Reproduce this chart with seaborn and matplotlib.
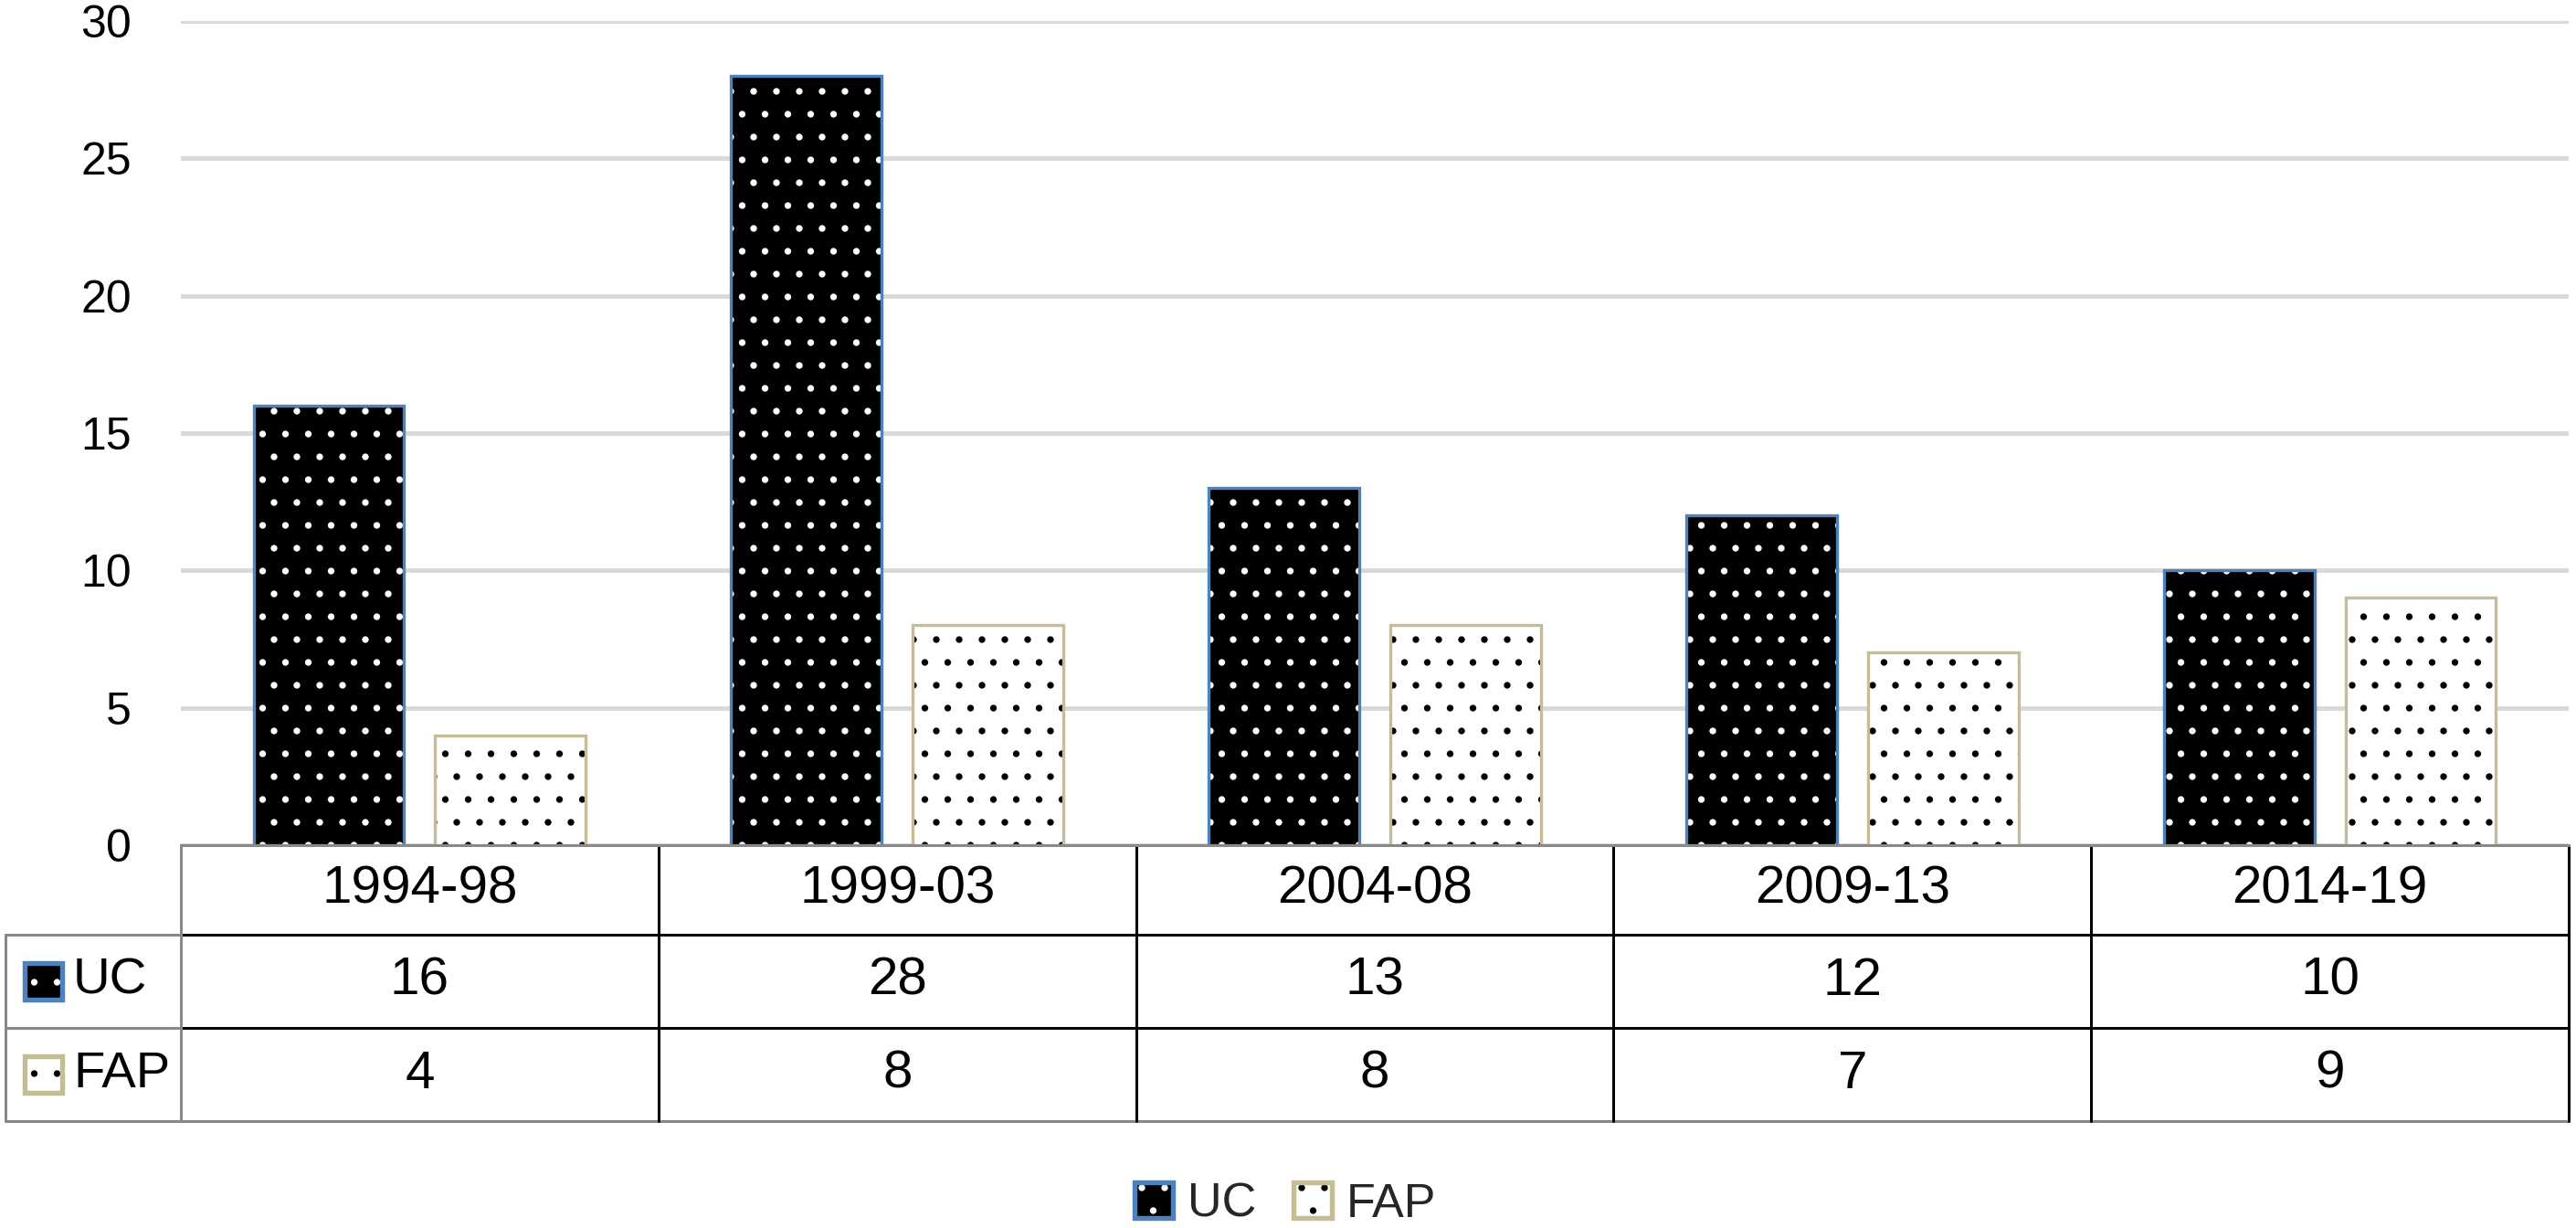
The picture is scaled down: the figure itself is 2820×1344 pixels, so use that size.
import pandas as pd
import matplotlib.pyplot as plt
import seaborn as sns
from matplotlib.patches import Patch, Rectangle

# data
periods = ['1994-98', '1999-03', '2004-08', '2009-13', '2014-19']
uc_counts = [16, 28, 13, 12, 10]
fap_counts = [4, 8, 8, 7, 9]
series_names = ['UC', 'FAP']
y_ticks = [0, 5, 10, 15, 20, 25, 30]

df = pd.DataFrame({
    'period': periods * 2,
    'count': uc_counts + fap_counts,
    'series': ['UC'] * len(periods) + ['FAP'] * len(periods),
})

# style
sns.set_theme(style='whitegrid')
plt.rcParams['font.family'] = ['Liberation Sans', 'DejaVu Sans']
plt.rcParams['hatch.linewidth'] = 1.1

uc_face, uc_dot, uc_edge = 'black', 'white', '#4f81bd'
fap_face, fap_dot, fap_edge = 'white', 'black', '#c4bd97'
gray = '#898989'

fig = plt.figure(figsize=(18.8, 8.96), dpi=150)
ax = fig.add_axes([0.0702, 0.3118, 0.9270, 0.6711])

sns.barplot(data=df, x='period', y='count', hue='series', hue_order=series_names,
            palette=[uc_face, fap_face], width=0.76, gap=0.17, saturation=1,
            legend=False, ax=ax)

# hatch layer + border layer for each bar
styles = [(uc_dot, uc_edge), (fap_dot, fap_edge)]
for cont, (dot, edge) in zip(ax.containers, styles):
    for p in cont:
        p.set_edgecolor(dot)
        p.set_linewidth(0)
        p.set_hatch('.')
        ax.add_patch(Rectangle(p.get_xy(), p.get_width(), p.get_height(),
                               fill=False, edgecolor=edge, linewidth=1.6, zorder=p.get_zorder() + 0.1))

ax.set_xlim(-0.5, len(periods) - 0.5)
ax.set_ylim(0, 30)
ax.set_yticks(y_ticks)
ax.tick_params(axis='y', length=0, pad=26, labelsize=24, labelcolor='black')
ax.tick_params(axis='x', length=0, labelbottom=False)
ax.set_xlabel('')
ax.set_ylabel('')
ax.yaxis.grid(True, color='#d9d9d9', linewidth=2.4)
ax.xaxis.grid(False)
ax.set_axisbelow(True)
for s in ['left', 'right', 'top']:
    ax.spines[s].set_visible(False)
ax.spines['bottom'].set_color(gray)
ax.spines['bottom'].set_linewidth(1.44)

# data table under the axis
xt = ax.get_xaxis_transform()
ta = ax.transAxes
y_rows = [0, -0.1086, -0.2217, -0.3348]
x_left = -0.0735
lw = 1.44
n = len(periods)

# horizontal lines
for y in y_rows[1:3]:
    ax.plot([x_left, 0], [y, y], color=gray, lw=lw, transform=ta, clip_on=False)
    ax.plot([0, 1], [y, y], color='black', lw=lw, transform=ta, clip_on=False)
ax.plot([x_left, 1], [y_rows[3]] * 2, color=gray, lw=lw, transform=ta, clip_on=False)
# vertical lines
ax.plot([x_left, x_left], [y_rows[1], y_rows[3]], color=gray, lw=lw, transform=ta, clip_on=False)
ax.plot([0, 0], [0, y_rows[3]], color=gray, lw=lw, transform=ta, clip_on=False)
for i in range(n):
    ax.plot([i + 0.5, i + 0.5], [0, y_rows[3]], color='black', lw=lw, transform=xt, clip_on=False)

row_mid = [(y_rows[k] + y_rows[k + 1]) / 2 for k in range(3)]
for i, per in enumerate(periods):
    ax.text(i, row_mid[0], per, transform=xt, ha='center', va='center', fontsize=28, color='black')
    ax.text(i, row_mid[1], str(uc_counts[i]), transform=xt, ha='center', va='center', fontsize=28, color='black')
    ax.text(i, row_mid[2], str(fap_counts[i]), transform=xt, ha='center', va='center', fontsize=28, color='black')

# row labels with keys
key_w, key_h = 0.0157, 0.0444
for k, (name, face, (dot, edge)) in enumerate(zip(series_names, [uc_face, fap_face], styles)):
    ym = row_mid[k + 1]
    ax.add_patch(Rectangle((-0.0654, ym - key_h / 2), key_w, key_h, transform=ta, clip_on=False,
                           facecolor=face, edgecolor=dot, linewidth=0, hatch='.'))
    ax.add_patch(Rectangle((-0.0654, ym - key_h / 2), key_w, key_h, transform=ta, clip_on=False,
                           fill=False, edgecolor=edge, linewidth=2.6))
    ax.text(-0.0451, ym, name, transform=ta, ha='left', va='center', fontsize=27, color='black')

# bottom legend
handles = []
for face, (dot, edge) in zip([uc_face, fap_face], styles):
    handles.append((Patch(facecolor=face, edgecolor=dot, linewidth=0, hatch='.'),
                    Patch(facecolor='none', edgecolor=edge, linewidth=2.6)))
fig.legend(handles=handles, labels=series_names, loc='center', bbox_to_anchor=(0.499, 0.0193),
           ncol=2, frameon=False, fontsize=25, handlelength=0.8, handleheight=0.8,
           handletextpad=0.31, columnspacing=0.79)

plt.savefig('out.png', dpi=150)
